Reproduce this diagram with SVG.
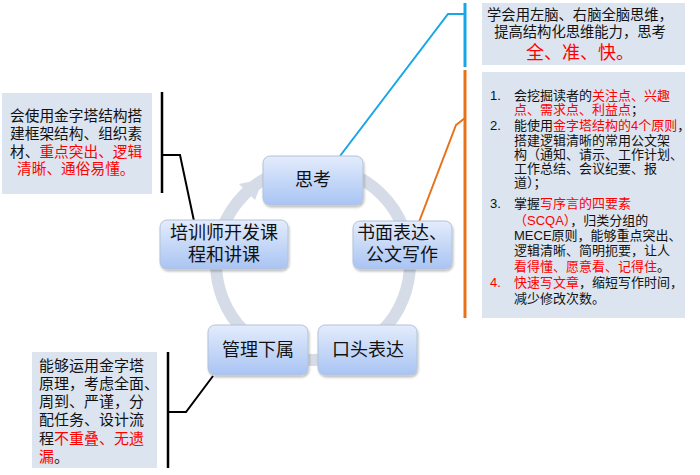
<svg xmlns="http://www.w3.org/2000/svg" width="700" height="475" viewBox="0 0 700 475">
<defs>
<linearGradient id="ng" x1="0" y1="0" x2="0" y2="1">
<stop offset="0" stop-color="#e3ecfc"/>
<stop offset="1" stop-color="#a9c4f3"/>
</linearGradient>
<filter id="sh" x="-10%" y="-10%" width="130%" height="140%">
<feDropShadow dx="1" dy="2" stdDeviation="1.2" flood-color="#000" flood-opacity="0.25"/>
</filter>
<style>
text{font-family:"Liberation Sans","Noto Sans CJK SC",sans-serif;fill:#111;}
.box{fill:#dce4ef;}
.node{fill:url(#ng);stroke:#b4c2d8;stroke-width:1;filter:url(#sh);}
.nt{font-size:18px;text-anchor:middle;}
.r{fill:#ff0000;}
.bt{font-size:14.7px;}
.lt{font-size:13px;}
.tt{font-size:14.3px;text-anchor:middle;}
.ln{fill:none;stroke-width:2;}
</style>
</defs>
<rect width="700" height="475" fill="#fff"/>

<g id="cycle">
<circle cx="313" cy="263" r="97" fill="none" stroke="#d5dce7" stroke-width="12"/>
<polygon points="239,184 255,200 263,179" fill="#d5dce7"/>
</g>

<g id="connectors">
<polyline class="ln" points="340,156 448,14 465,14" stroke="#17a7e6"/>
<line x1="465" y1="3" x2="465" y2="67" stroke="#17a7e6" stroke-width="3"/>
<polyline class="ln" points="419,222 456,125 465,118" stroke="#e8711a"/>
<line x1="465" y1="70" x2="465" y2="318" stroke="#e8711a" stroke-width="3"/>
<line x1="162" y1="92" x2="162" y2="193" stroke="#000" stroke-width="2.5"/>
<polyline class="ln" points="162,155 180,155 194,221" stroke="#000"/>
<line x1="168" y1="352" x2="168" y2="468" stroke="#000" stroke-width="2.5"/>
<polyline class="ln" points="168,412 186,412 213,376" stroke="#000"/>
</g>

<g id="node-think">
<rect class="node" x="263" y="156" width="100" height="49" rx="7"/>
<text class="nt" x="313" y="186">思考</text>
</g>
<g id="node-write">
<rect class="node" x="353" y="221" width="99" height="48" rx="7"/>
<text class="nt" x="402" y="239">书面表达、</text>
<text class="nt" x="402" y="261">公文写作</text>
</g>
<g id="node-train">
<rect class="node" x="160" y="220" width="128" height="49" rx="7"/>
<text class="nt" x="224" y="239">培训师开发课</text>
<text class="nt" x="224" y="261">程和讲课</text>
</g>
<g id="node-manage">
<rect class="node" x="208" y="325" width="100" height="50" rx="7"/>
<text class="nt" x="258" y="356">管理下属</text>
</g>
<g id="node-speak">
<rect class="node" x="318" y="325" width="99" height="50" rx="7"/>
<text class="nt" x="368" y="356">口头表达</text>
</g>

<g id="box-think">
<rect class="box" x="482" y="3" width="203" height="62"/>
<text class="tt" x="580" y="20">学会用左脑、右脑全脑思维，</text>
<text class="tt" x="580" y="37">提高结构化思维能力，思考</text>
<text class="tt r" x="580" y="59" style="font-size:18px">全、准、快。</text>
</g>

<g id="box-write">
<rect class="box" x="482" y="72" width="203" height="246"/>
<g class="lt">
<text x="490" y="100">1.</text>
<text x="514" y="100">会挖掘读者的<tspan class="r">关注点、兴趣</tspan></text>
<text x="514" y="114"><tspan class="r">点、需求点、利益点</tspan>；</text>
<text x="490" y="130">2.</text>
<text x="514" y="130">能使用<tspan class="r">金字塔结构的4个原则</tspan>，</text>
<text x="514" y="145">搭建逻辑清晰的常用公文架</text>
<text x="514" y="159">构（通知、请示、工作计划、</text>
<text x="514" y="173">工作总结、会议纪要、报</text>
<text x="514" y="187">道）；</text>
<text x="490" y="208">3.</text>
<text x="514" y="208">掌握<tspan class="r">写序言的四要素</tspan></text>
<text x="514" y="225"><tspan class="r">（SCQA）</tspan>，归类分组的</text>
<text x="514" y="240">MECE原则，能够重点突出、</text>
<text x="514" y="255">逻辑清晰、简明扼要，让人</text>
<text x="514" y="271"><tspan class="r">看得懂、愿意看、记得住</tspan>。</text>
<text class="r" x="490" y="287">4.</text>
<text x="514" y="287"><tspan class="r">快速写文章</tspan>，缩短写作时间，</text>
<text x="514" y="303">减少修改次数。</text>
</g>
</g>

<g id="box-train">
<rect class="box" x="2" y="93" width="150" height="101"/>
<g class="bt">
<text x="10" y="121">会使用金字塔结构搭</text>
<text x="10" y="139">建框架结构、组织素</text>
<text x="10" y="157">材、<tspan class="r">重点突出、逻辑</tspan></text>
<text class="r" x="17" y="174">清晰、通俗易懂。</text>
</g>
</g>

<g id="box-manage">
<rect class="box" x="32" y="352" width="125" height="116"/>
<g style="font-size:15px">
<text x="39" y="371">能够运用金字塔</text>
<text x="39" y="389">原理，考虑全面、</text>
<text x="39" y="407">周到、严谨，分</text>
<text x="39" y="425">配任务、设计流</text>
<text x="39" y="444">程<tspan class="r">不重叠、无遗</tspan></text>
<text x="39" y="462"><tspan class="r">漏</tspan>。</text>
</g>
</g>
</svg>
